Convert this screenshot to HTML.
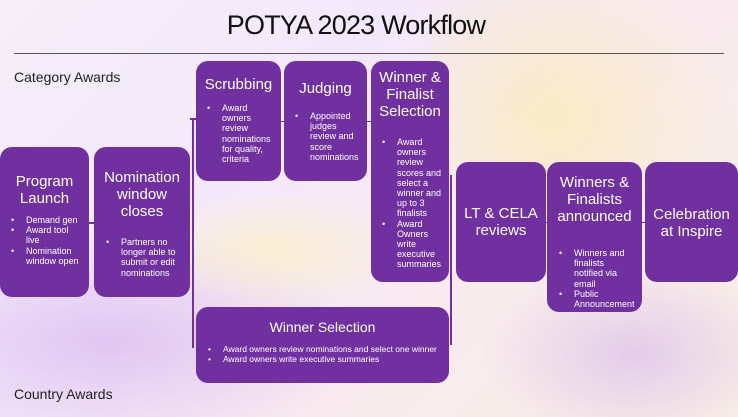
<!DOCTYPE html>
<html><head><meta charset="utf-8"><style>
*{margin:0;padding:0;box-sizing:border-box}
html,body{width:738px;height:417px;overflow:hidden}
body{position:relative;font-family:"Liberation Sans",sans-serif;
background:linear-gradient(135deg,#f6eef8 0%,#f3e8fb 35%,#f8eaf0 60%,#f9efe4 100%);}
.bg1{position:absolute;left:430px;top:0;width:308px;height:290px;background:radial-gradient(ellipse at 40% 40%,rgba(250,235,190,.85),rgba(250,225,210,0) 70%);}
.bg2{position:absolute;left:0;top:230px;width:370px;height:187px;background:radial-gradient(ellipse at 30% 60%,rgba(220,190,240,.8),rgba(220,190,240,0) 70%);}
.bg3{position:absolute;left:480px;top:260px;width:258px;height:157px;background:radial-gradient(ellipse at 60% 60%,rgba(225,200,235,.9),rgba(225,200,235,0) 70%);}
.bg4{position:absolute;left:130px;top:190px;width:280px;height:120px;background:radial-gradient(ellipse,rgba(250,240,200,.8),rgba(250,240,200,0) 70%);}
.title{position:absolute;left:0;width:712px;top:10px;text-align:center;font-size:27px;color:#111;letter-spacing:-0.8px}
.hr{position:absolute;left:14px;top:53px;width:710px;height:1px;background:#555}
.lbl{position:absolute;font-size:14px;color:#222}
.b{position:absolute;background:#7030a0;border-radius:12px;color:#fff;text-align:center}
.b h{display:block;font-size:15px;line-height:17px}
.b ul{text-align:left;font-size:9px;line-height:10.2px;list-style:none}
.b li{position:relative}
.b li:before{content:"•";position:absolute;left:-15px}
.ln{position:absolute;background:#7030a0}
</style></head><body>
<div class="bg1"></div><div class="bg2"></div><div class="bg3"></div><div class="bg4"></div>
<div class="title">POTYA 2023 Workflow</div>
<div class="hr"></div>
<div class="lbl" style="left:14px;top:69px">Category Awards</div>
<div class="lbl" style="left:14px;top:386px">Country Awards</div>

<div class="ln" style="left:88px;top:222px;width:8px;height:2px"></div>
<div class="ln" style="left:192px;top:118px;width:2px;height:230px"></div>
<div class="ln" style="left:190px;top:118px;width:8px;height:2px"></div>
<div class="ln" style="left:280px;top:121px;width:6px;height:1px"></div>
<div class="ln" style="left:366px;top:121px;width:6px;height:1px"></div>
<div class="ln" style="left:450px;top:175px;width:2px;height:170px"></div>
<div class="ln" style="left:545px;top:222px;width:4px;height:1px"></div>
<div class="ln" style="left:641px;top:222px;width:5px;height:1px"></div>

<div class="b" style="left:0;top:147px;width:89px;height:150px"><h style="margin-top:26px">Program<br>Launch</h>
<ul style="margin:8px 10px 0 26px"><li>Demand gen</li><li>Award tool live</li><li>Nomination window open</li></ul></div>
<div class="b" style="left:94px;top:147px;width:96px;height:150px"><h style="margin-top:22px">Nomination<br>window<br>closes</h>
<ul style="margin:17px 10px 0 27px"><li>Partners no longer able to submit or edit nominations</li></ul></div>
<div class="b" style="left:196px;top:61px;width:85px;height:120px"><h style="margin-top:15px">Scrubbing</h>
<ul style="margin:10px 8px 0 26px"><li>Award owners review nominations for quality, criteria</li></ul></div>
<div class="b" style="left:284px;top:61px;width:83px;height:120px"><h style="margin-top:19px">Judging</h>
<ul style="margin:14px 8px 0 26px"><li>Appointed judges review and score nominations</li></ul></div>
<div class="b" style="left:371px;top:61px;width:78px;height:221px"><h style="margin-top:8px">Winner &amp;<br>Finalist<br>Selection</h>
<ul style="margin:17px 6px 0 26px"><li>Award owners review scores and select a winner and up to 3 finalists</li><li>Award Owners write executive summaries</li></ul></div>
<div class="b" style="left:456px;top:162px;width:90px;height:120px"><h style="margin-top:43px">LT &amp; CELA<br>reviews</h></div>
<div class="b" style="left:547px;top:162px;width:95px;height:150px"><h style="margin-top:12px">Winners &amp;<br>Finalists<br>announced</h>
<ul style="margin:23px 8px 0 27px"><li>Winners and finalists notified via email</li><li>Public Announcement</li></ul></div>
<div class="b" style="left:645px;top:162px;width:93px;height:120px"><h style="margin-top:44px">Celebration<br>at Inspire</h></div>
<div class="b" style="left:196px;top:307px;width:253px;height:76px"><h style="margin-top:12px;font-size:14px">Winner Selection</h>
<ul style="margin:8px 0 0 27px;white-space:nowrap;font-size:8.5px"><li>Award owners review nominations and select one winner</li><li>Award owners write executive summaries</li></ul></div>
</body></html>
